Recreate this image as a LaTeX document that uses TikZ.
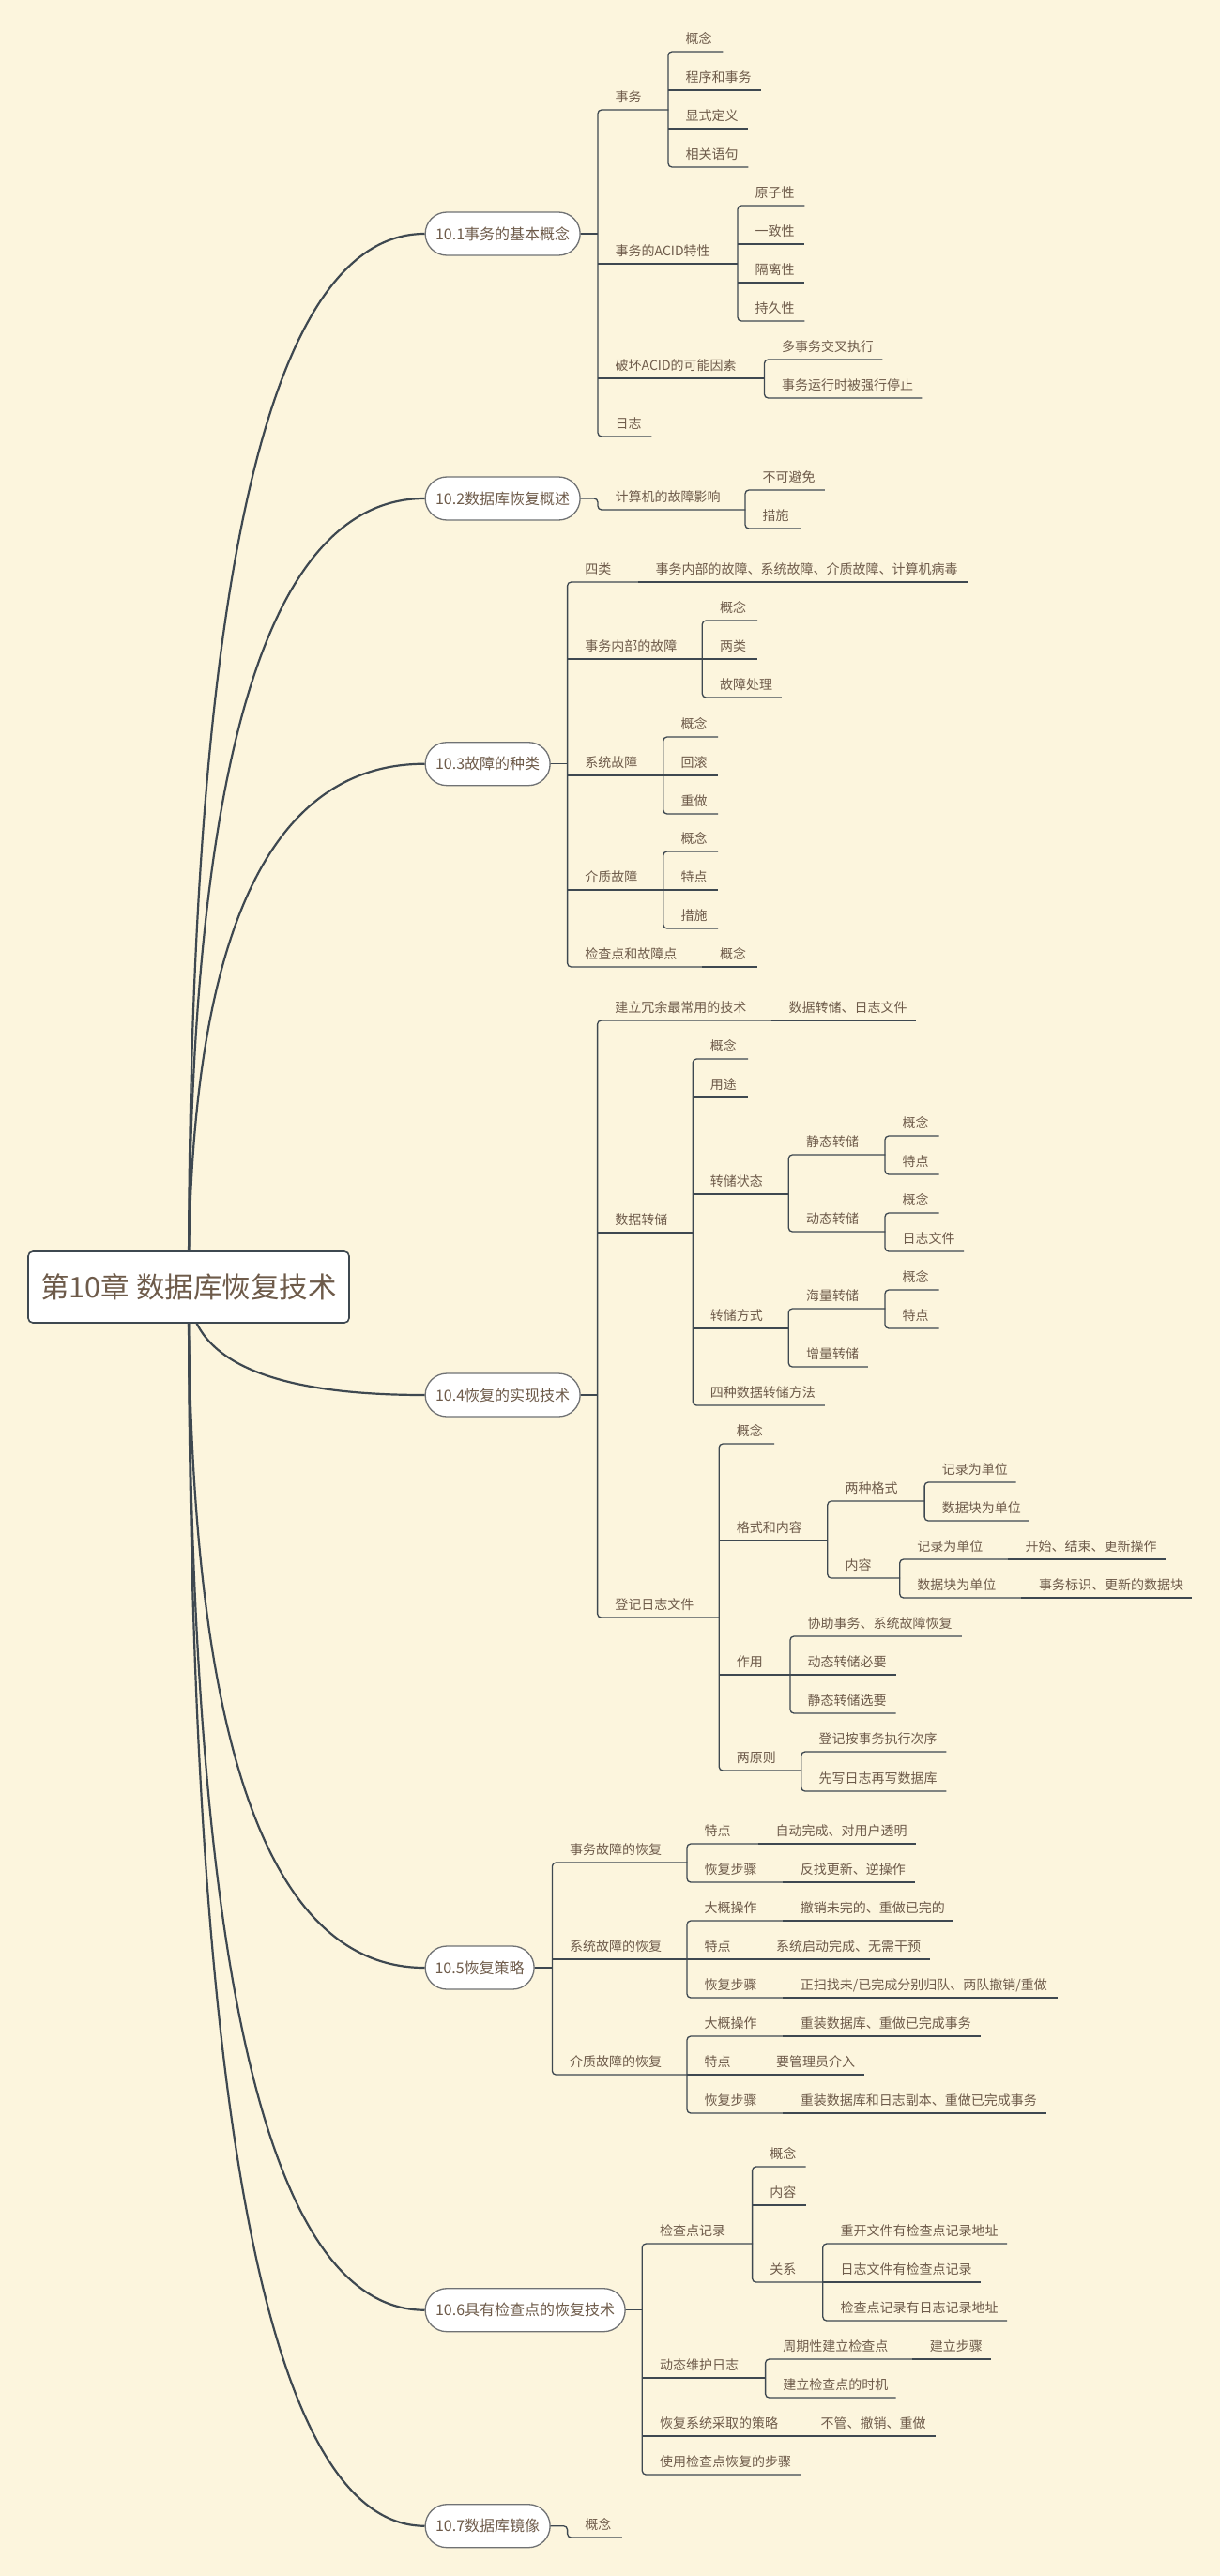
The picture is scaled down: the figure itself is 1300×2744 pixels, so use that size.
\documentclass[tikz,border=0pt]{standalone}
\usepackage{fontspec}
\newfontfamily\cjk{Noto Sans CJK SC}
\usetikzlibrary{calc}
\definecolor{bgc}{HTML}{FCF5DD}
\definecolor{txt}{HTML}{6E5B4A}
\definecolor{lnc}{HTML}{3E4850}
\definecolor{bdr}{HTML}{707274}
\newcommand\mmtp[5]{\node[topic] (#1) at (#2,#4) {\makebox[\dimexpr #3pt-#2pt\relax][l]{\hspace*{18.5pt}#5}};}
\newcommand\mmline[1]{\draw[br] (#1.south west) -- (#1.south east);}
\newcommand\mmgrp[2]{\draw[br] (#1.south east) -- (#1.south west) -- (#2.south west) -- (#2.south east);}
\newcommand\mmstub[2]{\draw[br] (#1.east) -- (#1.east -| #2.south west);}
\newcommand\mmcurve[1]{\draw[crv] (rc) .. controls ($(rc)!0.6667!(rc |- #1.west)$) and ($(#1.west)!0.6667!(rc |- #1.west)$) .. (#1.west);}
\begin{document}
\begin{tikzpicture}[x=1pt,y=-1pt,
  topic/.style={anchor=south west, inner sep=0pt, text depth=8.5pt, font=\cjk\fontsize{14}{16}\selectfont, text=txt},
  br/.style={draw=lnc, line width=1.3pt, rounded corners=4pt},
  crv/.style={draw=lnc, line width=2.2pt},
  lone/.style={anchor=west, draw=bdr, fill=white, line width=1.3pt, rounded corners=23pt, minimum height=46pt, inner xsep=0pt, font=\cjk\fontsize{16}{18}\selectfont, text=txt},
  rootbox/.style={draw=lnc, fill=white, line width=1.6pt, rounded corners=5pt, minimum width=342pt, minimum height=76pt, inner sep=0pt, font=\cjk\fontsize{30.5}{34}\selectfont, text=txt}]
\fill[bgc] (0,0) rectangle (1300,2744);
\useasboundingbox (0,0) rectangle (1300,2744);
\coordinate (rc) at (201,1371);
% level 1
\node[lone, minimum width=165pt] (L1a) at (452.5,249) {10.1事务的基本概念};
\node[lone, minimum width=165pt] (L1b) at (452.5,531) {10.2数据库恢复概述};
\node[lone, minimum width=133pt] (L1c) at (452.5,813.7) {10.3故障的种类};
\node[lone, minimum width=165pt] (L1d) at (452.5,1486) {10.4恢复的实现技术};
\node[lone, minimum width=116pt] (L1e) at (452.5,2096) {10.5恢复策略};
\node[lone, minimum width=213pt] (L1f) at (452.5,2460.7) {10.6具有检查点的恢复技术};
\node[lone, minimum width=133pt] (L1g) at (452.5,2690.7) {10.7数据库镜像};
\mmcurve{L1a}\mmcurve{L1b}\mmcurve{L1c}\mmcurve{L1d}\mmcurve{L1e}\mmcurve{L1f}\mmcurve{L1g}
\node[rootbox] (root) at (rc) {第10章 数据库恢复技术};
% 10.1
\mmtp{a1}{637}{712}{117}{事务}
\mmtp{a11}{712}{770}{55}{概念}
\mmtp{a12}{712}{811}{96}{程序和事务}
\mmtp{a13}{712}{797}{137}{显式定义}
\mmtp{a14}{712}{797}{178}{相关语句}
\mmtp{a2}{637}{786}{281}{事务的ACID特性}
\mmtp{a21}{786}{857}{219}{原子性}
\mmtp{a22}{786}{857}{260}{一致性}
\mmtp{a23}{786}{857}{301}{隔离性}
\mmtp{a24}{786}{857}{342}{持久性}
\mmtp{a3}{637}{814.5}{403}{破坏ACID的可能因素}
\mmtp{a31}{814.5}{940}{383}{多事务交叉执行}
\mmtp{a32}{814.5}{982}{424}{事务运行时被强行停止}
\mmtp{a4}{637}{694}{465}{日志}
\mmstub{L1a}{a1}
\mmgrp{a1}{a4}\mmline{a2}\mmline{a3}
\mmgrp{a11}{a14}\mmline{a12}\mmline{a13}
\mmgrp{a21}{a24}\mmline{a22}\mmline{a23}
\mmgrp{a31}{a32}
% 10.2
\mmtp{b1}{637}{794}{543}{计算机的故障影响}
\mmtp{b11}{794}{878.5}{522}{不可避免}
\mmtp{b12}{794}{853}{563}{措施}
\draw[br] (L1b.east) -- (L1b.east -| b1.south west) -- (b1.south west) -- (b1.south east);
\mmgrp{b11}{b12}
% 10.3
\mmtp{c1}{604.6}{680}{620}{四类}
\mmtp{c11}{680}{1030.6}{620}{事务内部的故障、系统故障、介质故障、计算机病毒}
\mmtp{c2}{604.6}{748.3}{702}{事务内部的故障}
\mmtp{c21}{748.3}{806.6}{661}{概念}
\mmtp{c22}{748.3}{806.6}{702}{两类}
\mmtp{c23}{748.3}{832.5}{743}{故障处理}
\mmtp{c3}{604.6}{706.8}{826}{系统故障}
\mmtp{c31}{706.8}{764.6}{785}{概念}
\mmtp{c32}{706.8}{764.6}{826}{回滚}
\mmtp{c33}{706.8}{764.6}{867}{重做}
\mmtp{c4}{604.6}{706.8}{948}{介质故障}
\mmtp{c41}{706.8}{764.6}{907}{概念}
\mmtp{c42}{706.8}{764.6}{948}{特点}
\mmtp{c43}{706.8}{764.6}{989}{措施}
\mmtp{c5}{604.6}{748.3}{1030}{检查点和故障点}
\mmtp{c51}{748.3}{806.6}{1030}{概念}
\mmstub{L1c}{c1}
\mmgrp{c1}{c5}\mmline{c2}\mmline{c3}\mmline{c4}
\mmline{c11}
\mmgrp{c21}{c23}\mmline{c22}
\mmgrp{c31}{c33}\mmline{c32}
\mmgrp{c41}{c43}\mmline{c42}
\mmline{c51}
% 10.4
\mmtp{d1}{636.6}{821.8}{1087}{建立冗余最常用的技术}
\mmtp{d11}{821.8}{976}{1087}{数据转储、日志文件}
\mmtp{d2}{636.6}{738.2}{1313}{数据转储}
\mmtp{d21}{738.2}{796.6}{1128}{概念}
\mmtp{d22}{738.2}{796.6}{1169}{用途}
\mmtp{d23}{738.2}{840.3}{1272}{转储状态}
\mmtp{d231}{840.3}{943}{1230}{静态转储}
\mmtp{d2311}{943}{1000.3}{1210}{概念}
\mmtp{d2312}{943}{1000.3}{1251}{特点}
\mmtp{d232}{840.3}{943}{1312}{动态转储}
\mmtp{d2321}{943}{1000.3}{1292}{概念}
\mmtp{d2322}{943}{1026.6}{1333}{日志文件}
\mmtp{d24}{738.2}{840.3}{1415}{转储方式}
\mmtp{d241}{840.3}{943}{1394}{海量转储}
\mmtp{d2411}{943}{1000.3}{1374}{概念}
\mmtp{d2412}{943}{1000.3}{1415}{特点}
\mmtp{d242}{840.3}{924.5}{1456}{增量转储}
\mmtp{d25}{738.2}{878.5}{1497}{四种数据转储方法}
\mmtp{d3}{636.6}{766.2}{1723}{登记日志文件}
\mmtp{d31}{766.2}{824.6}{1538}{概念}
\mmtp{d32}{766.2}{881.8}{1641}{格式和内容}
\mmtp{d321}{881.8}{985.1}{1599}{两种格式}
\mmtp{d3211}{985.1}{1082.2}{1579}{记录为单位}
\mmtp{d3212}{985.1}{1096.2}{1620}{数据块为单位}
\mmtp{d322}{881.8}{958.7}{1681}{内容}
\mmtp{d3221}{958.7}{1073.8}{1661}{记录为单位}
\mmtp{d32211}{1073.8}{1242}{1661}{开始、结束、更新操作}
\mmtp{d3222}{958.7}{1088.4}{1702}{数据块为单位}
\mmtp{d32221}{1088.4}{1270}{1702}{事务标识、更新的数据块}
\mmtp{d33}{766.2}{842}{1784}{作用}
\mmtp{d331}{842}{1024.4}{1743}{协助事务、系统故障恢复}
\mmtp{d332}{842}{954.2}{1784}{动态转储必要}
\mmtp{d333}{842}{954.2}{1825}{静态转储选要}
\mmtp{d34}{766.2}{853.8}{1886}{两原则}
\mmtp{d341}{853.8}{1008}{1866}{登记按事务执行次序}
\mmtp{d342}{853.8}{1008}{1908}{先写日志再写数据库}
\mmstub{L1d}{d1}
\mmgrp{d1}{d3}\mmline{d2}
\mmline{d11}
\mmgrp{d21}{d25}\mmline{d22}\mmline{d23}\mmline{d24}
\mmgrp{d231}{d232}
\mmgrp{d2311}{d2312}
\mmgrp{d2321}{d2322}
\mmgrp{d241}{d242}
\mmgrp{d2411}{d2412}
\mmgrp{d31}{d34}\mmline{d32}\mmline{d33}
\mmgrp{d321}{d322}
\mmgrp{d3211}{d3212}
\mmgrp{d3221}{d3222}
\mmline{d32211}\mmline{d32221}
\mmgrp{d331}{d333}\mmline{d332}
\mmgrp{d341}{d342}
% 10.5
\mmtp{e1}{588.4}{732}{1984}{事务故障的恢复}
\mmtp{e11}{732}{807.8}{1964}{特点}
\mmtp{e111}{807.8}{976}{1964}{自动完成、对用户透明}
\mmtp{e12}{732}{834.2}{2005}{恢复步骤}
\mmtp{e121}{834.2}{974.4}{2005}{反找更新、逆操作}
\mmtp{e2}{588.4}{732}{2087}{系统故障的恢复}
\mmtp{e21}{732}{834.2}{2046}{大概操作}
\mmtp{e211}{834.2}{1016}{2046}{撤销未完的、重做已完的}
\mmtp{e22}{732}{808.4}{2087}{特点}
\mmtp{e221}{808.4}{990.1}{2087}{系统启动完成、无需干预}
\mmtp{e23}{732}{834.2}{2128}{恢复步骤}
\mmtp{e231}{834.2}{1126.5}{2128}{正扫找未/已完成分别归队、两队撤销/重做}
\mmtp{e3}{588.4}{732}{2210}{介质故障的恢复}
\mmtp{e31}{732}{834.2}{2169}{大概操作}
\mmtp{e311}{834.2}{1044.6}{2169}{重装数据库、重做已完成事务}
\mmtp{e32}{732}{808.4}{2210}{特点}
\mmtp{e321}{808.4}{920.6}{2210}{要管理员介入}
\mmtp{e33}{732}{834.2}{2251}{恢复步骤}
\mmtp{e331}{834.2}{1114.7}{2251}{重装数据库和日志副本、重做已完成事务}
\mmstub{L1e}{e1}
\mmgrp{e1}{e3}\mmline{e2}
\mmgrp{e11}{e12}\mmline{e111}\mmline{e121}
\mmgrp{e21}{e23}\mmline{e22}\mmline{e211}\mmline{e221}\mmline{e231}
\mmgrp{e31}{e33}\mmline{e32}\mmline{e311}\mmline{e321}\mmline{e331}
% 10.6
\mmtp{f1}{684.3}{801.6}{2390}{检查点记录}
\mmtp{f11}{801.6}{858.3}{2308}{概念}
\mmtp{f12}{801.6}{858.3}{2349}{内容}
\mmtp{f13}{801.6}{876.8}{2431}{关系}
\mmtp{f131}{876.8}{1072.6}{2390}{重开文件有检查点记录地址}
\mmtp{f132}{876.8}{1044.6}{2431}{日志文件有检查点记录}
\mmtp{f133}{876.8}{1072.6}{2472}{检查点记录有日志记录地址}
\mmtp{f2}{684.3}{815.6}{2533}{动态维护日志}
\mmtp{f21}{815.6}{972.2}{2513}{周期性建立检查点}
\mmtp{f211}{972.2}{1055.8}{2513}{建立步骤}
\mmtp{f22}{815.6}{954.2}{2554}{建立检查点的时机}
\mmtp{f3}{684.3}{856}{2595}{恢复系统采取的策略}
\mmtp{f31}{856}{996.3}{2595}{不管、撤销、重做}
\mmtp{f4}{684.3}{852.7}{2636}{使用检查点恢复的步骤}
\mmstub{L1f}{f1}
\mmgrp{f1}{f4}\mmline{f2}\mmline{f3}
\mmgrp{f11}{f13}\mmline{f12}
\mmgrp{f131}{f133}\mmline{f132}
\mmgrp{f21}{f22}\mmline{f211}
\mmline{f31}
% 10.7
\mmtp{g1}{604.6}{662.4}{2703}{概念}
\draw[br] (L1g.east) -- (L1g.east -| g1.south west) -- (g1.south west) -- (g1.south east);
\end{tikzpicture}
\end{document}
